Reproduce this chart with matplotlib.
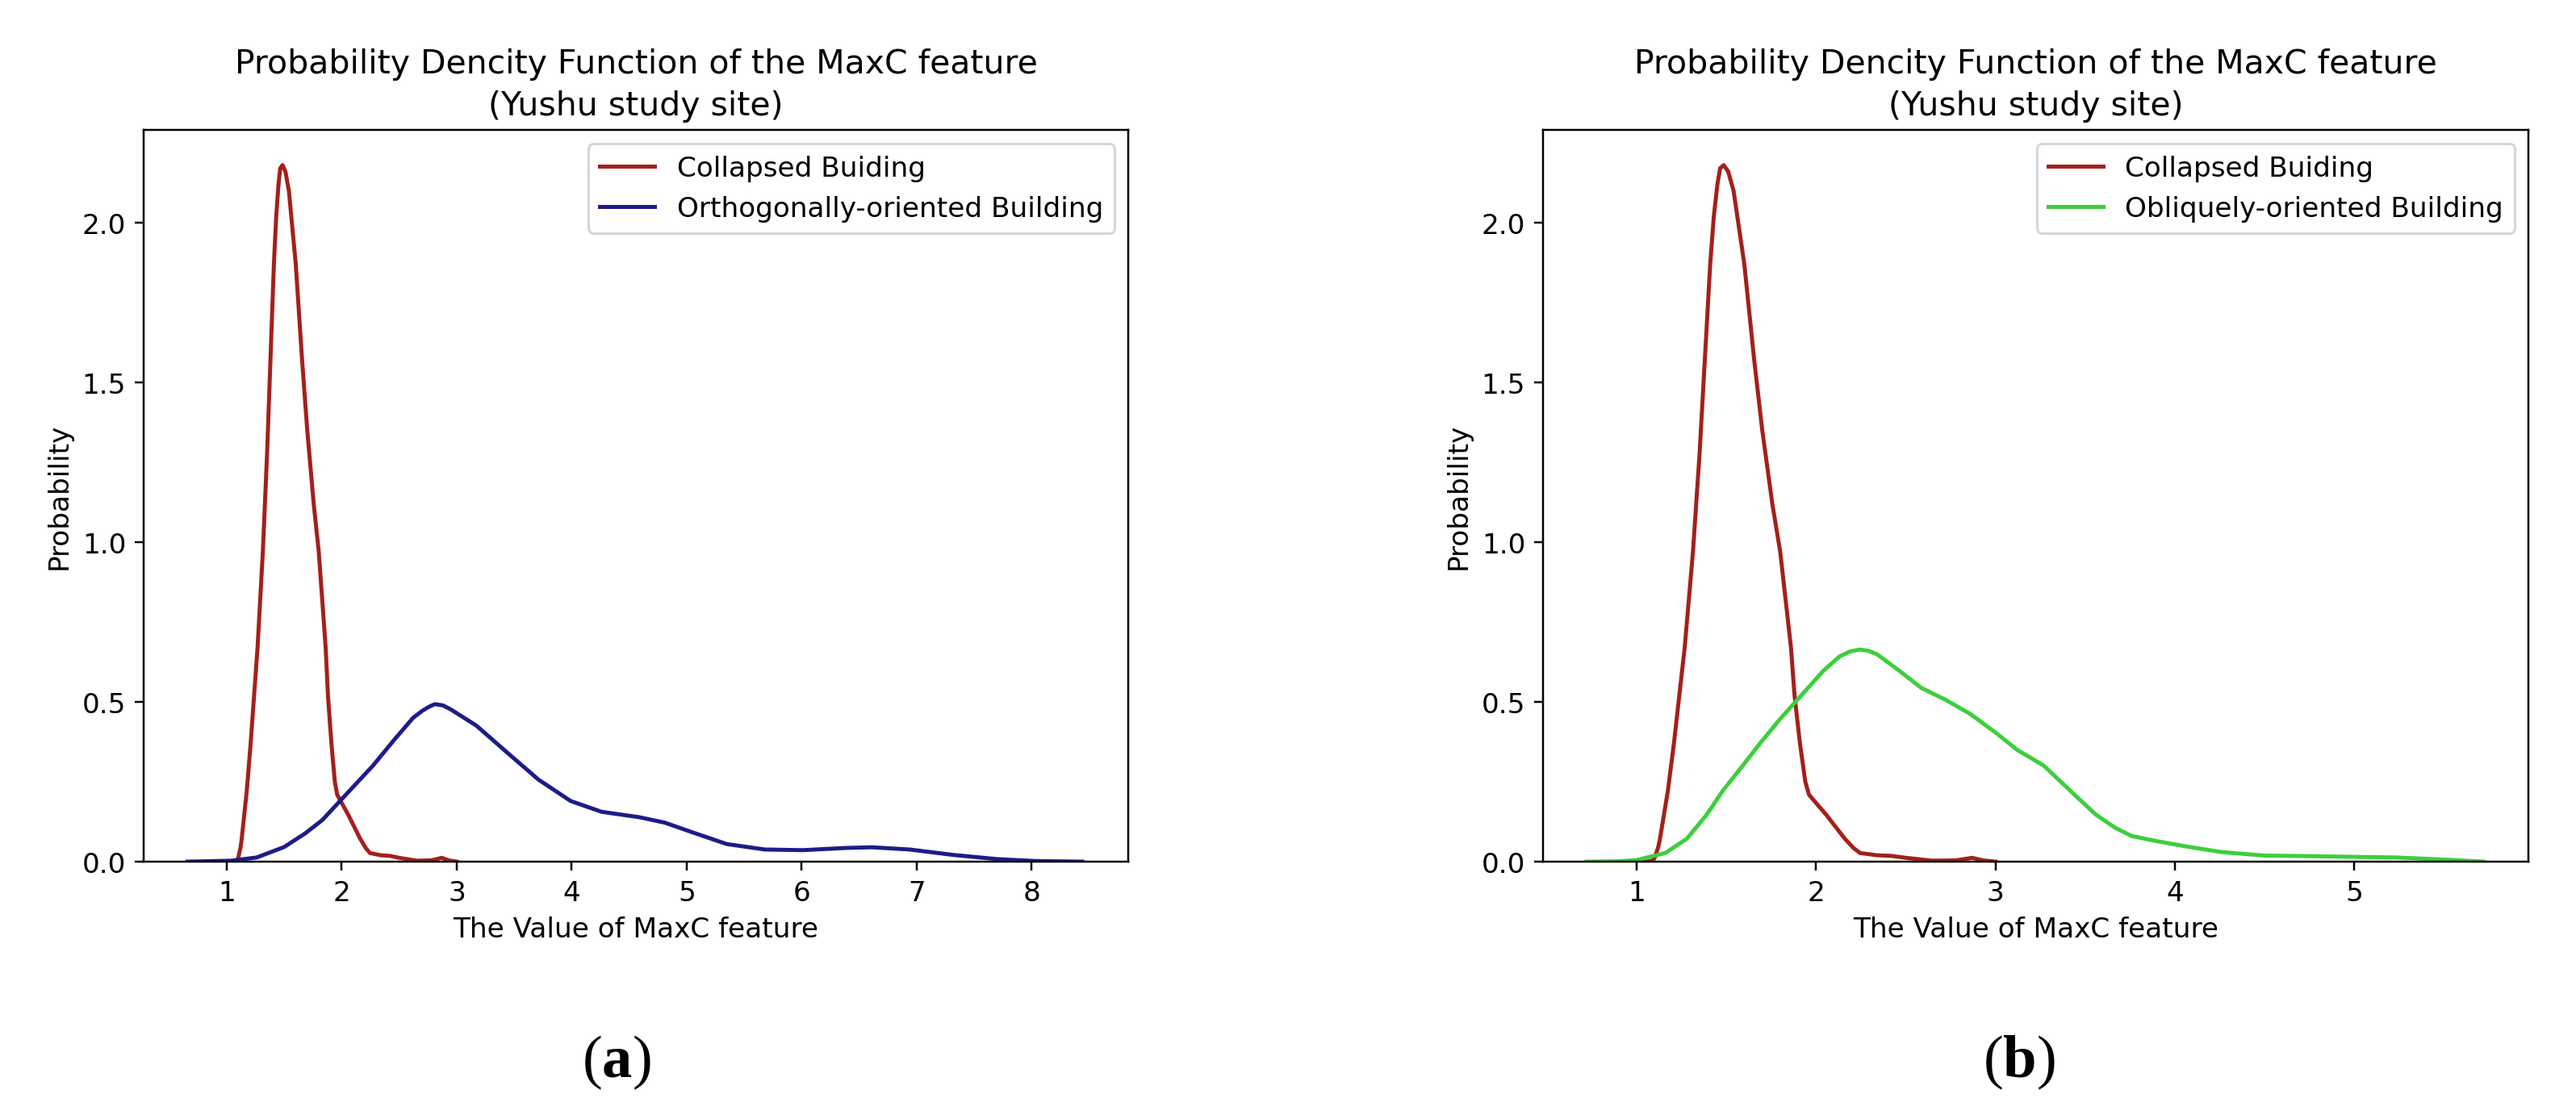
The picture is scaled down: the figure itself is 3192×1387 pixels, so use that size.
import matplotlib
matplotlib.use('Agg')
import matplotlib.pyplot as plt

# densite des batiments effondres (meme courbe dans les 2 panneaux)
red_x = [0.95, 1.05, 1.086, 1.10, 1.12, 1.13, 1.15, 1.174, 1.208, 1.268, 1.314, 1.35, 1.38,
         1.41, 1.43, 1.45, 1.465, 1.485, 1.51, 1.54, 1.60, 1.655, 1.70, 1.756, 1.80, 1.83,
         1.86, 1.88, 1.91, 1.94, 1.96, 1.99, 2.056, 2.16, 2.21, 2.245, 2.34, 2.42, 2.50,
         2.65, 2.78, 2.87, 2.93, 3.00]
red_y = [0.0, 0.0, 0.002, 0.012, 0.045, 0.072, 0.14, 0.222, 0.372, 0.672, 0.972, 1.272,
         1.572, 1.872, 2.02, 2.12, 2.17, 2.18, 2.16, 2.10, 1.87, 1.57, 1.35, 1.12, 0.97,
         0.82, 0.67, 0.52, 0.37, 0.25, 0.21, 0.19, 0.147, 0.072, 0.042, 0.027, 0.02,
         0.018, 0.012, 0.003, 0.004, 0.012, 0.004, 0.0]

# batiments orientes orthogonalement (a)
blue_x = [0.66, 1.04, 1.26, 1.50, 1.68, 1.83, 2.05, 2.27, 2.46, 2.62, 2.70, 2.76, 2.81,
          2.88, 2.95, 3.17, 3.44, 3.71, 3.99, 4.26, 4.59, 4.81, 5.08, 5.35, 5.68, 6.01,
          6.39, 6.61, 6.94, 7.32, 7.70, 8.03, 8.44]
blue_y = [0.0, 0.003, 0.013, 0.046, 0.088, 0.13, 0.215, 0.30, 0.383, 0.45, 0.472, 0.485,
          0.493, 0.489, 0.476, 0.426, 0.341, 0.257, 0.19, 0.156, 0.139, 0.122, 0.088,
          0.055, 0.038, 0.036, 0.043, 0.045, 0.038, 0.021, 0.008, 0.002, 0.0]

# batiments orientes obliquement (b)
green_x = [0.72, 0.9, 1.0, 1.16, 1.28, 1.39, 1.48, 1.586, 1.69, 1.80, 1.92, 2.04, 2.13,
           2.19, 2.245, 2.29, 2.34, 2.465, 2.586, 2.72, 2.86, 3.01, 3.12, 3.19, 3.27, 3.43,
           3.56, 3.67, 3.76, 3.91, 4.08, 4.26, 4.50, 4.78, 5.0, 5.24, 5.52, 5.72]
green_y = [0.0, 0.001, 0.005, 0.027, 0.072, 0.147, 0.222, 0.297, 0.372, 0.447, 0.522,
           0.597, 0.642, 0.658, 0.664, 0.660, 0.649, 0.597, 0.544, 0.507, 0.462, 0.40,
           0.35, 0.327, 0.30, 0.215, 0.147, 0.105, 0.08, 0.063, 0.046, 0.03, 0.019, 0.017,
           0.015, 0.013, 0.006, 0.0]

title_txt = "Probability Dencity Function of the MaxC feature\n(Yushu study site)"
lab_red = "Collapsed Buiding"
lab_blue = "Orthogonally-oriented Building"
lab_green = "Obliquely-oriented Building"

plt.rcParams['font.size'] = 11
plt.rcParams['mathtext.fontset'] = 'custom'
plt.rcParams['mathtext.rm'] = 'Liberation Serif'
plt.rcParams['mathtext.bf'] = 'Liberation Serif:bold'

fig = plt.figure(figsize=(14.25, 6.196), dpi=224)
H = 1388.
W = 3192.
ax1 = fig.add_axes([178 / W, 1 - 1069 / H, 1220 / W, 907 / H])
ax2 = fig.add_axes([1912 / W, 1 - 1069 / H, 1221 / W, 907 / H])

c_red = '#a3201c'
c_blue = '#1c1c8a'
c_green = '#3ccf3c'

ax1.plot(red_x, red_y, color=c_red, lw=1.6, label=lab_red)
ax1.plot(blue_x, blue_y, color=c_blue, lw=1.6, label=lab_blue)
ax1.set_xlim(0.277, 8.84)
ax1.set_xticks([1, 2, 3, 4, 5, 6, 7, 8])

ax2.plot(red_x, red_y, color=c_red, lw=1.6, label=lab_red)
ax2.plot(green_x, green_y, color=c_green, lw=1.6, label=lab_green)
ax2.set_xlim(0.478, 5.97)
ax2.set_xticks([1, 2, 3, 4, 5])

for ax in (ax1, ax2):
    ax.set_ylim(0, 2.29)
    ax.set_yticks([0.0, 0.5, 1.0, 1.5, 2.0])
    ax.set_title(title_txt, fontsize=13.2, linespacing=1.4)
    ax.set_xlabel("The Value of MaxC feature")
    ax.set_ylabel("Probability")
    ax.legend(loc='upper right')

# etiquettes des panneaux
fig.text(764 / W, 1 - 1317 / H, r'($\mathbf{a}$)', family='Liberation Serif',
         fontsize=24, ha='center', va='center')
fig.text(2502 / W, 1 - 1317 / H, r'($\mathbf{b}$)', family='Liberation Serif',
         fontsize=24, ha='center', va='center')

fig.savefig('out.png', dpi=224)
